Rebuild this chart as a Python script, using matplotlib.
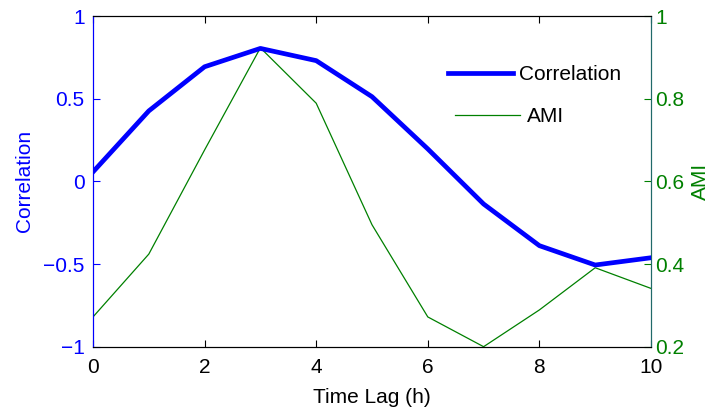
import numpy as np
import matplotlib.pyplot as plt

plt.rcParams['font.family'] = ['Liberation Sans', 'DejaVu Sans']

lag = [0, 1, 2, 3, 4, 5, 6, 7, 8, 9, 10]
corr = [0.057, 0.426, 0.693, 0.804, 0.73, 0.512, 0.196, -0.137, -0.389, -0.506, -0.462]
ami = [0.272, 0.424, 0.676, 0.923, 0.789, 0.495, 0.272, 0.2, 0.289, 0.391, 0.341]

blue = '#0000ff'
green = '#008000'

fig = plt.figure(figsize=(7.12, 4.12), dpi=100)
ax1 = fig.add_axes([93/712, 1-346.7/412, (651-93)/712, (346.7-16)/412])
ax2 = ax1.twinx()

l1, = ax1.plot(lag, corr, color=blue, lw=3.4, label='Correlation', zorder=3)
l2, = ax2.plot(lag, ami, color=green, lw=0.9, label='AMI')
ax1.set_zorder(ax2.get_zorder() + 1)
ax1.patch.set_visible(False)

ax1.set_xlim(0, 10)
ax1.set_ylim(-1, 1)
ax2.set_ylim(0.2, 1)
ax1.set_xticks([0, 2, 4, 6, 8, 10])
ax1.set_yticks([-1, -0.5, 0, 0.5, 1])
ax1.set_yticklabels(['\u22121', '\u22120.5', '0', '0.5', '1'])
ax2.set_yticks([0.2, 0.4, 0.6, 0.8, 1])
ax2.set_yticklabels(['0.2', '0.4', '0.6', '0.8', '1'])

ax1.tick_params(axis='x', direction='in', top=True, labelsize=15, length=5, pad=8, colors='black')
ax1.tick_params(axis='y', direction='in', labelsize=15, length=5, colors=blue, pad=6)
ax2.tick_params(axis='y', direction='in', labelsize=15, length=5, colors=green, pad=3)
ax2.tick_params(axis='x', top=False, bottom=False)

ax1.spines['left'].set_color(blue)
ax2.spines['left'].set_color(blue)
ax1.spines['right'].set_color('#206a6a')
ax2.spines['right'].set_color('#206a6a')
for ax in (ax1, ax2):
    ax.spines['top'].set_color('black')
    ax.spines['bottom'].set_color('black')

ax1.set_xlabel('Time Lag (h)', fontsize=15, labelpad=8)
ax1.set_ylabel('Correlation', fontsize=15, color=blue, labelpad=7)
ax2.set_ylabel('AMI', fontsize=15, color=green, labelpad=5)

# two legend entries, placed separately like the original
leg1 = ax1.legend([l1], ['Correlation'], frameon=False, fontsize=15,
                  loc='center left', bbox_to_anchor=(448/712, 1-75/412),
                  bbox_transform=fig.transFigure, borderpad=0, borderaxespad=0,
                  handlelength=3.1, handletextpad=0.33)
ax1.add_artist(leg1)
leg2 = ax1.legend([l2], ['AMI'], frameon=False, fontsize=15,
                  loc='center left', bbox_to_anchor=(455/712, 1-117/412),
                  bbox_transform=fig.transFigure, borderpad=0, borderaxespad=0,
                  handlelength=3.1, handletextpad=0.33)

fig.savefig('out.png', dpi=100)
